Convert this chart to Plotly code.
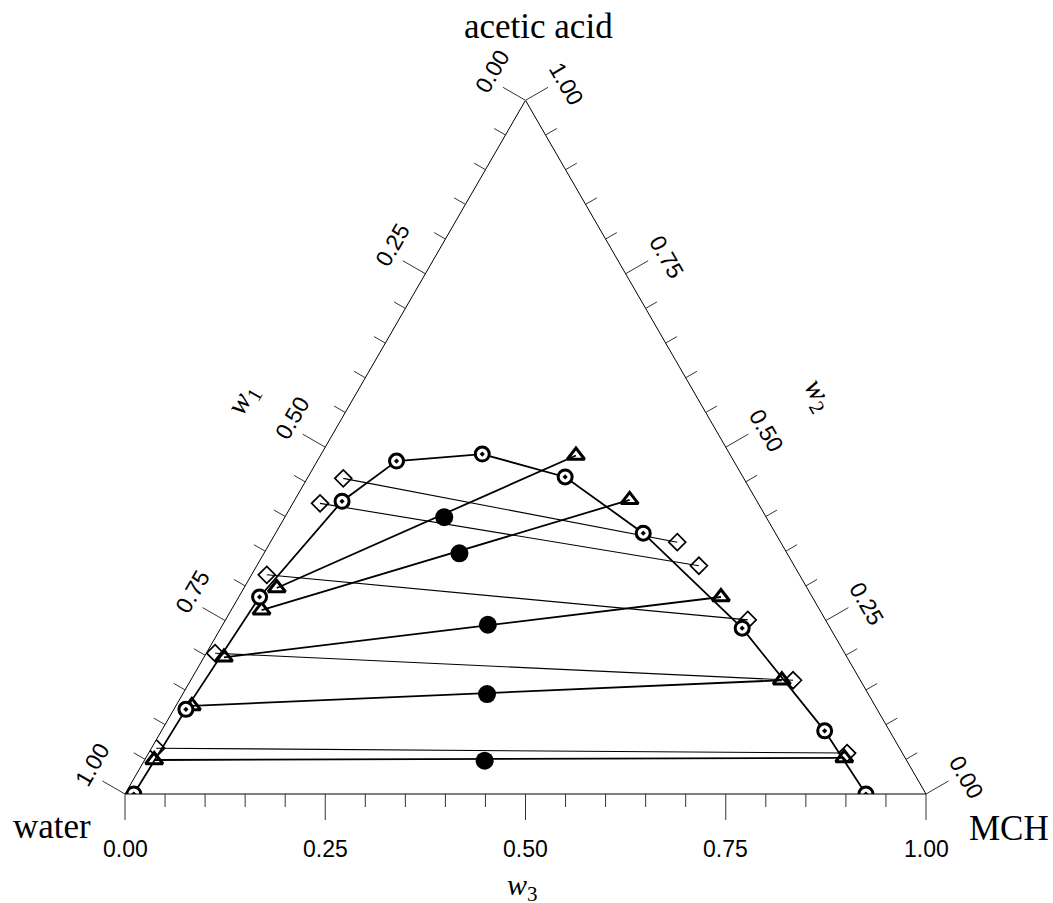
import math
import plotly.graph_objects as go

# mass fractions: w1 = water, w2 = acetic acid, w3 = MCH
# binodal curve (circles with dot)
bin_w1 = [0.989, 0.863, 0.690, 0.518, 0.421, 0.309, 0.222, 0.165, 0.110, 0.081, 0.075]
bin_w2 = [0.000, 0.122, 0.284, 0.422, 0.480, 0.490, 0.457, 0.376, 0.239, 0.091, 0.000]
bin_w3 = [0.011, 0.015, 0.026, 0.060, 0.099, 0.201, 0.321, 0.459, 0.651, 0.828, 0.925]

# tie lines, set 1 (open triangles), water-rich end
triL_w1 = [0.662, 0.697, 0.778, 0.853, 0.939]
triL_w2 = [0.297, 0.265, 0.197, 0.127, 0.049]
triL_w3 = [0.041, 0.038, 0.025, 0.020, 0.012]
# organic-rich end
triR_w1 = [0.193, 0.158, 0.114, 0.098, 0.076]
triR_w2 = [0.488, 0.424, 0.284, 0.164, 0.052]
triR_w3 = [0.319, 0.418, 0.602, 0.738, 0.872]

# feed compositions (filled circles)
feed_w1 = [0.402, 0.409, 0.425, 0.476, 0.527]
feed_w2 = [0.399, 0.347, 0.244, 0.144, 0.048]
feed_w3 = [0.199, 0.244, 0.331, 0.380, 0.425]

# tie lines, set 2 (open diamonds)
diaL_w1 = [0.500, 0.547, 0.665, 0.786, 0.928]
diaL_w2 = [0.455, 0.419, 0.316, 0.203, 0.066]
diaL_w3 = [0.045, 0.034, 0.019, 0.011, 0.006]
diaR_w1 = [0.129, 0.119, 0.097, 0.084, 0.069]
diaR_w2 = [0.363, 0.329, 0.251, 0.164, 0.059]
diaR_w3 = [0.508, 0.552, 0.652, 0.752, 0.872]

# axis ticks
tick_vals = [0.00, 0.05, 0.10, 0.15, 0.20, 0.25, 0.30, 0.35, 0.40, 0.45, 0.50,
             0.55, 0.60, 0.65, 0.70, 0.75, 0.80, 0.85, 0.90, 0.95, 1.00]
label_vals = [0.00, 0.25, 0.50, 0.75, 1.00]
label_text = ["0.00", "0.25", "0.50", "0.75", "1.00"]


def tie_arrays(L, R):
    out = []
    for l, r in zip(L, R):
        out += [l, r, None]
    return out


fig = go.Figure()

fig.add_trace(go.Scatterternary(
    a=tie_arrays(diaL_w2, diaR_w2), b=tie_arrays(diaL_w1, diaR_w1), c=tie_arrays(diaL_w3, diaR_w3),
    mode="lines", line=dict(color="black", width=1.1), hoverinfo="skip"))
fig.add_trace(go.Scatterternary(
    a=tie_arrays(triL_w2, triR_w2), b=tie_arrays(triL_w1, triR_w1), c=tie_arrays(triL_w3, triR_w3),
    mode="lines", line=dict(color="black", width=1.8), hoverinfo="skip"))
fig.add_trace(go.Scatterternary(
    a=bin_w2, b=bin_w1, c=bin_w3, mode="lines",
    line=dict(color="black", width=1.8), hoverinfo="skip"))
fig.add_trace(go.Scatterternary(
    a=diaL_w2 + diaR_w2, b=diaL_w1 + diaR_w1, c=diaL_w3 + diaR_w3, mode="markers",
    marker=dict(symbol="diamond-open", size=13, color="black", line=dict(width=1.7))))
fig.add_trace(go.Scatterternary(
    a=triL_w2 + triR_w2, b=triL_w1 + triR_w1, c=triL_w3 + triR_w3, mode="markers",
    marker=dict(symbol="triangle-up-open", size=15, color="black", line=dict(width=3))))
fig.add_trace(go.Scatterternary(
    a=feed_w2, b=feed_w1, c=feed_w3, mode="markers",
    marker=dict(symbol="circle", size=18, color="black")))
fig.add_trace(go.Scatterternary(
    a=bin_w2, b=bin_w1, c=bin_w3, mode="markers",
    marker=dict(symbol="circle-dot", size=14, color="white", line=dict(color="black", width=3))))

# geometry of the triangle (pixels in the 1053x903 page)
FW, FH = 1053, 903
XL, XR, YB = 125.0, 926.0, 794.0
S = XR - XL
HT = S * math.sqrt(3) / 2
YT = YB - HT

dom = dict(x=[XL / FW, XR / FW], y=[1 - YB / FH, 1 - YT / FH])
ax = dict(showgrid=False, showline=True, linecolor="black", linewidth=1,
          ticks="", showticklabels=False, title=dict(text=""))

fig.update_layout(
    width=FW, height=FH, autosize=False,
    margin=dict(l=0, r=0, t=0, b=0),
    paper_bgcolor="white", showlegend=False,
    ternary=dict(domain=dom, sum=1, bgcolor="white", aaxis=ax, baxis=ax, caxis=ax),
)


def pos(w1, w2, w3):
    """composition -> page pixel position"""
    return XL + (w3 + w2 / 2) * S, YB - w2 * HT


def to_paper(x, y):
    return x / FW, 1 - y / FH


c30, s30 = math.sqrt(3) / 2, 0.5
edges = [
    # (edge point for value v, outward normal, label offset, text angle)
    (lambda v: pos(v, 1 - v, 0), (-c30, -s30), (-33, -29), -60),  # left: w1
    (lambda v: pos(0, v, 1 - v), (c30, -s30), (41, -16.5), 60),   # right: w2
    (lambda v: pos(1 - v, 0, v), (0, 1), (0, 54.5), 0),           # bottom: w3
]

shapes = []
for edge_pt, nrm, off, ang in edges:
    for i, v in enumerate(tick_vals):
        L = 26 if i % 5 == 0 else 13
        x0, y0 = edge_pt(v)
        x1, y1 = x0 + nrm[0] * L, y0 + nrm[1] * L
        p0, p1 = to_paper(x0, y0), to_paper(x1, y1)
        shapes.append(dict(type="line", xref="paper", yref="paper",
                           x0=p0[0], y0=p0[1], x1=p1[0], y1=p1[1],
                           line=dict(color="#333", width=1)))
    for v, t in zip(label_vals, label_text):
        x0, y0 = edge_pt(v)
        px, py = to_paper(x0 + off[0], y0 + off[1])
        fig.add_annotation(text=t, x=px, y=py, xref="paper", yref="paper", showarrow=False,
                           xanchor="center", yanchor="middle", textangle=ang,
                           font=dict(family="Liberation Sans, Arial", size=23, color="black"))
fig.update_layout(shapes=shapes)

serif = "Liberation Serif, Times New Roman"
titles = [
    ("acetic acid", 538, 27, 0, 35),
    ("water", 52, 826, 0, 35),
    ("MCH", 1009, 828, 0, 35),
    ("<i>w</i><sub>1</sub>", 243, 400, -60, 30),
    ("<i>w</i><sub>2</sub>", 818, 395, 60, 30),
    ("<i>w</i><sub>3</sub>", 522, 887, 0, 30),
]
for t, x, y, ang, sz in titles:
    px, py = to_paper(x, y)
    fig.add_annotation(text=t, x=px, y=py, xref="paper", yref="paper", showarrow=False,
                       xanchor="center", yanchor="middle", textangle=ang,
                       font=dict(family=serif, size=sz, color="black"))

fig.write_html("out.html", config={"displayModeBar": False},
               post_script="document.body.style.margin='0';")
